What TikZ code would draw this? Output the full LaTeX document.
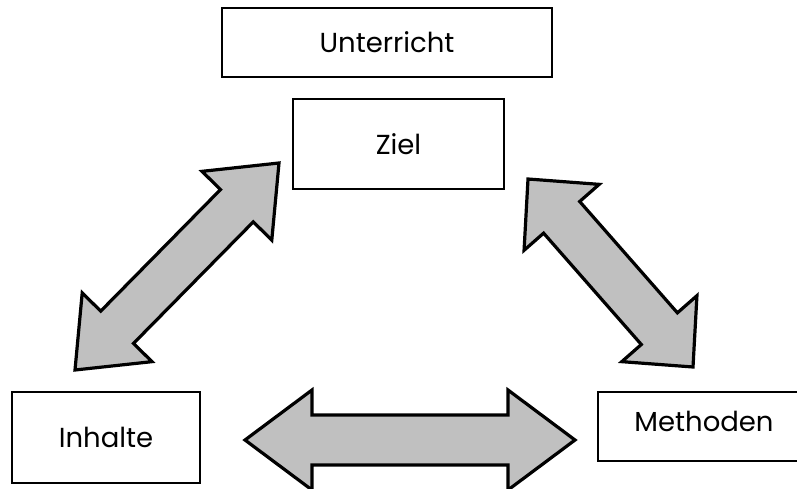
\documentclass[tikz,border=0pt]{standalone}
\usepackage{fontspec}
\setmainfont{Poppins}
\usetikzlibrary{calc}
\definecolor{arrowgray}{HTML}{C0C0C0}
\tikzset{
  boxfont/.style={font=\fontsize{27.5}{32}\selectfont},
  box/.style={draw=black, line width=1.3pt, fill=white, inner sep=0pt, boxfont},
  bigarrow/.style={draw=black, fill=arrowgray, line width=3.2pt, line join=miter},
}
\newcommand\bigdoublearrow[5]{%
  \draw[bigarrow] (#1)
    -- ($(#1)!#3!(#2)!#4!90:(#2)$)
    -- ($(#1)!#3!(#2)!#5!90:(#2)$)
    -- ($(#2)!#3!(#1)!#5!-90:(#1)$)
    -- ($(#2)!#3!(#1)!#4!-90:(#1)$)
    -- (#2)
    -- ($(#2)!#3!(#1)!#4!90:(#1)$)
    -- ($(#2)!#3!(#1)!#5!90:(#1)$)
    -- ($(#1)!#3!(#2)!#5!-90:(#2)$)
    -- ($(#1)!#3!(#2)!#4!-90:(#2)$)
    -- cycle;}
\begin{document}
\begin{tikzpicture}[x=1pt, y=-1pt]
\useasboundingbox (0,0) rectangle (797,489);
\clip (0,0) rectangle (797,489);
\node[box, minimum width=330pt, minimum height=69pt] (unterricht) at (387,42.5) {Unterricht};
\node[box, minimum width=211pt, minimum height=90pt] (ziel) at (398.5,144) {Ziel};
\node[box, minimum width=188pt, minimum height=91pt] (inhalte) at (106,437.5) {Inhalte};
\node[box, minimum width=212pt, minimum height=69pt] (methoden) at (704,426.5) {};
\node[boxfont, inner sep=0pt] (methodentext) at (704,421) {Methoden};
% arrow tips
\coordinate (lz) at (279,163);
\coordinate (li) at (75,370);
\coordinate (rz) at (528,179);
\coordinate (rm) at (693,367);
\coordinate (bi) at (245,440);
\coordinate (bm) at (575,440);
\bigdoublearrow{li}{lz}{60pt}{49pt}{23pt}
\bigdoublearrow{rz}{rm}{51pt}{50pt}{24pt}
\bigdoublearrow{bi}{bm}{67pt}{50pt}{25pt}
\end{tikzpicture}
\end{document}
